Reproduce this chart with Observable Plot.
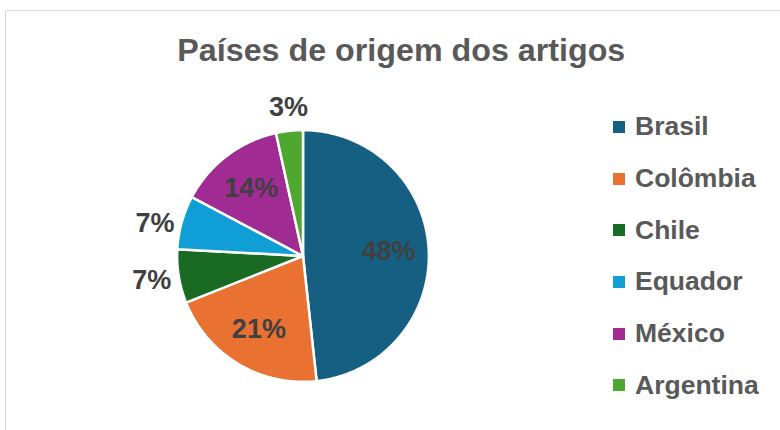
<!DOCTYPE html>
<html>
<head>
<meta charset="utf-8">
<script src="https://cdn.jsdelivr.net/npm/d3@7"></script>
<script src="https://cdn.jsdelivr.net/npm/@observablehq/plot@0.6"></script>
<style>
  body { margin: 0; background: #fff; }
  #chart { position: relative; width: 780px; height: 430px; overflow: hidden; background: #fff; }
  #frame { position: absolute; left: 5px; top: 10px; width: 900px; height: 600px; border: 1px solid #d9d9d9; }
  #titlewrap { position: absolute; left: 0; top: 30px; width: 802px; text-align: center; }
  #title { display: inline-block; transform-origin: 50% 50%;
           font-family: "Liberation Sans Narrow", "Arial Narrow", "Liberation Sans", sans-serif; font-weight: bold;
           font-size: 32px; line-height: 40px; color: #595959; white-space: nowrap; }
  #pie { position: absolute; left: 120px; top: 73px; }
  #legend { position: absolute; left: 613px; top: 101px; font-family: "Liberation Sans", Arial, sans-serif;
            font-weight: bold; font-size: 26.5px; color: #595959; }
  .row { height: 51.7px; display: flex; align-items: center; }
  .sw { width: 12px; height: 12px; margin-right: 10px; flex: none; }
</style>
</head>
<body>
<div id="chart">
  <div id="frame"></div>
  <div id="titlewrap"><span id="title">Países de origem dos artigos</span></div>
  <div id="pie"></div>
  <div id="legend"></div>
</div>
<script>
const countries = ["Brasil", "Colômbia", "Chile", "Equador", "México", "Argentina"];
const counts = [14, 6, 2, 2, 4, 1];
const colors = ["#156082", "#E97132", "#196B24", "#0F9ED5", "#A02B93", "#4EA72E"];

// fit title to the reference width
const titleEl = document.getElementById("title");
const tw = titleEl.getBoundingClientRect().width;
titleEl.style.transform = `scaleX(${448 / tw})`;

const total = d3.sum(counts);
const rows = countries.map((c, i) => ({country: c, count: counts[i]}));
const arcs = d3.pie().sort(null).value(d => d.count)(rows);

// slice outlines in unit-circle data space
const slicePts = [];
for (const a of arcs) {
  const n = Math.max(2, Math.ceil((a.endAngle - a.startAngle) / 0.01));
  slicePts.push({country: a.data.country, x: 0, y: 0});
  for (let k = 0; k <= n; k++) {
    const t = a.startAngle + (a.endAngle - a.startAngle) * k / n;
    slicePts.push({country: a.data.country, x: Math.sin(t), y: Math.cos(t)});
  }
  slicePts.push({country: a.data.country, x: 0, y: 0});
}

const labels = arcs.map(a => {
  const share = a.data.count / total;
  const mid = (a.startAngle + a.endAngle) / 2;
  const outside = share < 0.1;
  const rr = outside ? 1.06 : 0.68;
  const s = Math.sin(mid);
  let pos = "inside";
  if (outside) pos = Math.abs(s) > 0.7 ? (s < 0 ? "left" : "right") : (Math.cos(mid) > 0 ? "top" : "bottom");
  return {text: Math.round(share * 100) + "%", x: rr * s, y: rr * Math.cos(mid), pos};
});

const textStyle = {x: "x", y: "y", text: "text", fontSize: 27, fontWeight: "bold", fill: "#404040",
  fontFamily: "Liberation Sans, Arial, sans-serif"};

const R = 126, ext = 1.45, size = Math.round(2 * ext * R);
const plot = Plot.plot({
  width: size, height: size, margin: 0,
  x: {domain: [-ext, ext], axis: null},
  y: {domain: [-ext, ext], axis: null},
  color: {domain: countries, range: colors},
  marks: [
    Plot.line(slicePts, {x: "x", y: "y", z: "country", fill: "country", stroke: "white", strokeWidth: 2.5, strokeLinejoin: "round"}),
    Plot.text(labels.filter(d => d.pos === "inside"), textStyle),
    Plot.text(labels.filter(d => d.pos === "left"), {...textStyle, textAnchor: "end", dy: 3}),
    Plot.text(labels.filter(d => d.pos === "right"), {...textStyle, textAnchor: "start", dy: 3}),
    Plot.text(labels.filter(d => d.pos === "top"), {...textStyle, lineAnchor: "bottom", dy: -7}),
    Plot.text(labels.filter(d => d.pos === "bottom"), {...textStyle, lineAnchor: "top", dy: 7})
  ]
});
document.getElementById("pie").appendChild(plot);

const legend = document.getElementById("legend");
countries.forEach((c, i) => {
  const row = document.createElement("div");
  row.className = "row";
  const sw = document.createElement("span");
  sw.className = "sw";
  sw.style.background = colors[i];
  const tx = document.createElement("span");
  tx.textContent = c;
  row.appendChild(sw); row.appendChild(tx);
  legend.appendChild(row);
});
</script>
</body>
</html>
